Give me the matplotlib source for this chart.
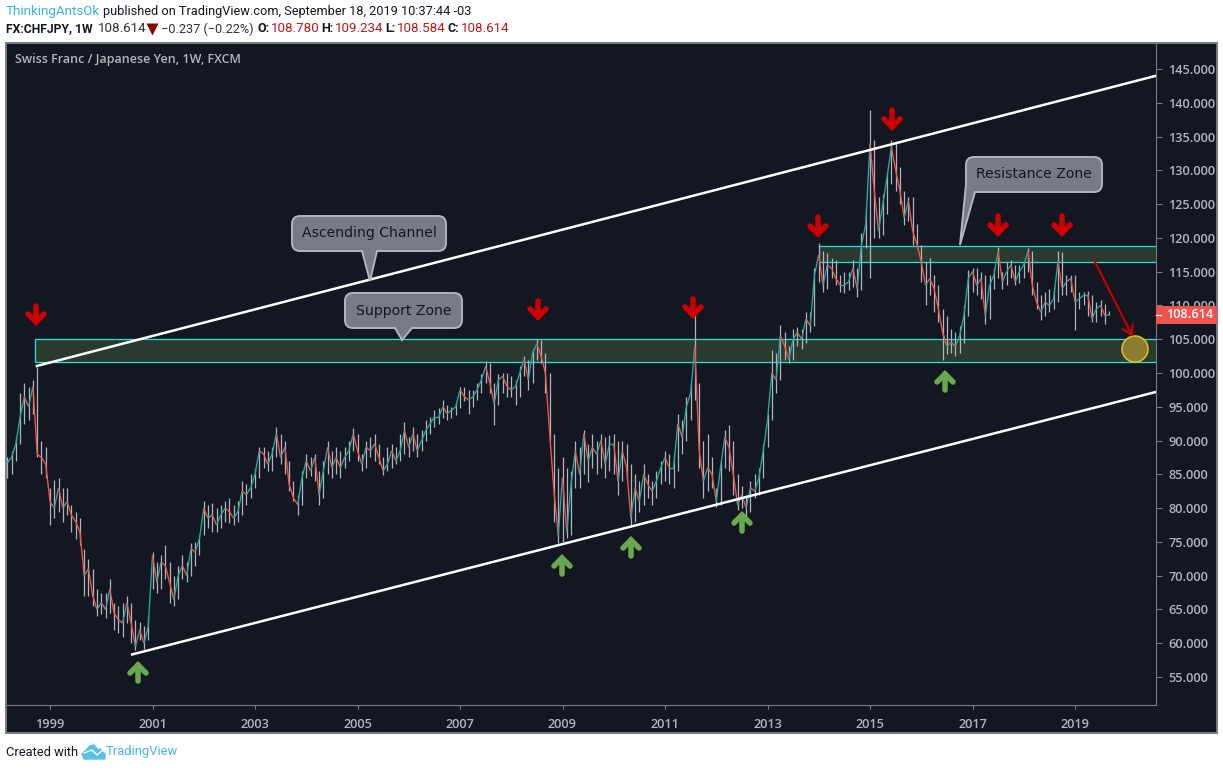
#!/usr/bin/env python

import matplotlib.pyplot as plt
import numpy as np
from matplotlib.collections import LineCollection
from matplotlib.patches import Circle, PathPatch, Rectangle
from matplotlib.path import Path

# monthly values, first one is March 1998
closes = [
    86.7, 87.5, 89.5, 93.5, 96.5, 95, 98, 88, 87.5, 86.5,
    81, 80, 83, 80, 81, 79, 78, 76.5, 70, 71, 67, 65,
    66, 65, 68, 64.5, 63.5, 63, 66, 63, 59.5, 62, 60, 62.5,
    73, 69, 72, 71.5, 69, 66.5, 70, 71.5, 70, 74, 73.5, 75.5,
    80, 78.5, 79, 77.5, 79, 80, 79.5, 78.5, 79.5, 82.5, 82, 83,
    85, 88.5, 88, 86.5, 88, 91, 87.5, 89, 83.5, 81.5, 80.5, 84.5,
    87, 85.5, 87.5, 82, 85.5, 89, 86, 87.5, 86, 87.5, 88.5, 91,
    88.5, 86.5, 89, 88.5, 89.5, 87.5, 85.5, 86.5, 88.5, 87, 88.5, 91.5,
    89, 91, 88.5, 90, 91.5, 92.5, 93.5, 93.5, 95, 94, 94.5, 95,
    97.5, 96.5, 96, 96.5, 97.5, 99, 101, 98.5, 95.5, 99, 99.5, 98,
    97.5, 98, 100, 102, 99, 103, 104.3, 102.5, 100, 91, 82.5, 76,
    84.5, 76.5, 83.5, 88.5, 85, 91, 87, 89, 88, 90, 86.5, 89.5,
    89.5, 84, 88.5, 86, 78.5, 83, 81, 85, 83.5, 82.5, 84, 86,
    87.5, 86, 86, 92.5, 90.5, 95, 97, 104, 88.5, 84, 86, 85,
    81, 86, 90.5, 89, 85, 80.5, 82, 80, 83, 82.5, 84.5, 88.5,
    93, 100, 99, 105.5, 104, 102, 105, 106, 105, 108, 107, 114.5,
    117.5, 113, 116, 115.5, 114, 113, 113, 113.5, 115.5, 112.5, 119, 122,
    134, 127, 121, 125, 129, 133.5, 130, 127, 123, 125.5, 121, 119,
    116.5, 113, 114, 112.5, 109.5, 106, 104, 104.5, 104, 105.5, 108.5, 114,
    115, 113, 114, 108.5, 113, 114.5, 118, 113.5, 115, 116, 113.5, 115,
    116, 118, 113, 110.5, 109, 110.5, 110, 111, 116.5, 112.5, 113.5, 114,
    110.5, 111, 111.5, 111.5, 108, 109.5, 110, 108.5, 108.614,
]
highs = [
    87.5, 88.5, 90.5, 97, 98.5, 98, 99, 100.9, 90, 89,
    83, 84.2, 84.5, 83, 83, 80.5, 79.5, 78.5, 74, 72.5, 71, 68,
    67.5, 67.5, 69.5, 66, 65.5, 66, 67, 66, 63.5, 63.2, 62.5, 64,
    73.5, 72, 73, 74.5, 72, 70, 71.5, 73, 72, 74.8, 75, 76,
    81, 80.5, 80.8, 80, 80.5, 81, 81.5, 80.5, 81, 84, 83.5, 85,
    86, 89, 89, 88.5, 89, 92, 91, 90, 87, 84, 82, 85.5,
    88, 87.5, 88, 85.5, 87, 90, 88.5, 89, 88.5, 89, 90, 91.8,
    91, 88, 90, 90.5, 91, 89.5, 87.5, 89, 89.5, 89, 91, 92.7,
    90.5, 92, 91, 91.5, 93, 93.5, 94.5, 94.8, 96, 95.3, 95, 95.6,
    98, 98, 97.5, 97.5, 98.5, 99.8, 101.8, 101.5, 98.5, 99.8, 100, 100,
    99.5, 99, 101, 102.5, 102, 103.5, 105, 104.9, 103, 100, 91, 86,
    87.5, 86, 85.5, 90, 89, 91.5, 89.5, 91, 90, 91, 90.5, 90.8,
    91, 90, 90, 89.5, 86.5, 85, 84, 86.5, 85, 84, 85.5, 87,
    88.5, 88, 88, 94, 93, 96.5, 98.5, 108.6, 98.5, 90, 91, 87.5,
    83, 87, 91.5, 92.3, 90, 85, 83.3, 82, 84, 85, 86, 89.5,
    94, 103.4, 103, 107.1, 106, 104, 106.5, 106.8, 106.5, 109, 109, 115.5,
    119.2, 118, 117.8, 117, 116.7, 114.5, 115, 115, 116.7, 115.5, 120.7, 124.4,
    138.9, 134.5, 126, 126.5, 129.5, 134.5, 134, 130.5, 127, 126, 126, 122,
    119, 116.5, 117, 114.5, 113, 109.5, 108.5, 106.5, 106, 107, 110, 115.2,
    115.5, 115.5, 115, 114.5, 114.5, 115.5, 118.7, 115, 116.5, 116.7, 116, 116,
    116.5, 118.5, 118, 113.5, 111.5, 112, 112.5, 112.8, 118, 117.9, 114.5, 114.5,
    114.5, 112, 112, 112.2, 111.5, 110.5, 110.8, 110.2, 109.234,
]
lows = [
    84.5, 85, 87, 89.5, 92.5, 93, 94, 87.5, 85, 84.5,
    77.5, 78.5, 79.5, 78, 79, 76.5, 75.5, 74.5, 67, 67, 65.5, 64,
    64.3, 63.8, 64.5, 62, 61.5, 61, 63, 60, 59, 60.5, 59.2, 60.5,
    68, 67.5, 68, 69.5, 66, 65.5, 66.5, 69.5, 69, 70, 71.5, 73,
    76, 77, 76.5, 76.5, 77, 78, 77.8, 77.5, 78, 79, 80.5, 81.5,
    83, 84.5, 86, 85.5, 85.5, 87.5, 86.5, 85, 82.5, 81, 79, 80.5,
    84.5, 84.8, 84, 80.4, 81.5, 85, 84.5, 85, 84.5, 86, 87, 88.5,
    87, 85.5, 86, 87.5, 87, 86.5, 84.9, 85.5, 86, 86.5, 87, 88,
    87.5, 88.5, 87.5, 88.5, 90, 91, 92, 92.5, 93.3, 93, 93.3, 93.8,
    94.8, 95.8, 94, 95, 96, 97, 98.5, 97, 92.3, 95.2, 97, 96.5,
    96.5, 95.3, 96.5, 99.5, 97.5, 98.5, 102, 101.5, 97, 90, 78, 74.8,
    75, 75.6, 76, 83, 83, 85, 83.8, 86, 85, 86, 84.5, 85.5,
    85, 82, 84, 84, 77.2, 78, 79.5, 80.5, 81.5, 80.5, 81.5, 83.5,
    84, 83.5, 83, 85.5, 88, 90, 93, 96, 86, 81.5, 82.5, 83,
    80.2, 80.5, 86, 85.5, 82, 79.7, 80, 78.7, 79.5, 81.5, 82, 84.5,
    89, 93, 97, 99, 102, 101.5, 102, 104, 103.5, 104.5, 106, 107,
    113.5, 112, 112.5, 114, 113, 112, 111.8, 112.3, 112.8, 111.3, 112.3, 118.5,
    114, 120, 120, 120.5, 123.5, 128, 127, 125, 121.9, 122.5, 119, 118.5,
    113.5, 110, 111.5, 109, 107.5, 101.9, 102.8, 103, 102.5, 103, 104.5, 108.5,
    112, 111.5, 111, 107.3, 108, 112.5, 114, 112.5, 113, 114, 113, 113.3,
    114, 115, 111.5, 109.5, 107.8, 108.5, 109, 109.5, 110.5, 111.5, 111.5, 112,
    106.3, 109.5, 110, 108.5, 107.5, 107.6, 108.5, 107.3, 108.584,
]
first_year = 1998 + 2 / 12

price_ticks = list(range(55, 150, 5))
year_ticks = list(range(1999, 2021, 2))

support_zone = (101.6, 105.0)
resistance_zone = (116.5, 118.85)
support_start = 1998.71
resistance_start = 2014.0

upper_channel = ([1998.72, 2020.58], [101.0, 144.0])
lower_channel = ([2000.58, 2020.58], [58.3, 97.2])

last_price = 108.614

W, H = 1223, 770
BG = "#131722"
GREY = "#b2b5be"
LINE = "#787b86"
CYAN = "#1fe6d8"
RED = "#cc0000"
GREEN = "#6aa84f"
FONT = "Open Sans"
HEAD = "Roboto"

fig = plt.figure(figsize=(W / 100, H / 100), dpi=100, facecolor="white")

# pixel coordinates for the panel and everything around the chart
back = fig.add_axes([0, 0, 1, 1], zorder=0)
back.set_xlim(0, W)
back.set_ylim(H, 0)
back.axis("off")
back.add_patch(Rectangle((6, 43), 1211, 690, fc=BG, ec=LINE, lw=1.4))

# 1 year = 51.25 px and 1 unit of price = 6.756 px
ax = fig.add_axes([6 / W, 1 - 705 / H, 1150 / W, 662 / H], zorder=1)
ax.set_facecolor("none")
ax.set_xlim(1999 + (6 - 50) / 51.25, 1999 + (1156 - 50) / 51.25)
ax.set_ylim(145 - (705 - 69) / 6.756, 145 + (69 - 43) / 6.756)

dates = first_year + np.arange(len(closes)) / 12
closes = np.array(closes)
opens = np.r_[closes[0], closes[:-1]]
up = closes >= opens

ax.vlines(dates, lows, highs, color=GREY, lw=0.9, zorder=3)
# bodies slanted from one close to the next, the weekly candles are too thin to tell apart
segments = np.stack([np.c_[dates[:-1], closes[:-1]], np.c_[dates[1:], closes[1:]]], axis=1)
colors = ["#26a69a" if u else "#ef5350" for u in up[1:]]
ax.add_collection(LineCollection(segments, colors=colors, linewidths=1.0, zorder=4))

for start, zone in [(support_start, support_zone), (resistance_start, resistance_zone)]:
    ax.fill_between([start, ax.get_xlim()[1]], *zone, fc="#2a3a2e", ec="none", zorder=1)
    ax.hlines(zone, start, ax.get_xlim()[1], color=CYAN, lw=0.9, zorder=2)
ax.vlines(support_start, *support_zone, color=CYAN, lw=0.9, zorder=2)

ax.plot(*upper_channel, color="white", lw=1.8, zorder=5, solid_capstyle="butt")
ax.plot(*lower_channel, color="white", lw=1.8, zorder=5, solid_capstyle="butt")

ax.yaxis.tick_right()
ax.set_yticks(price_ticks, [f"{p:.3f}" for p in price_ticks])
ax.set_xticks(year_ticks, [str(y) for y in year_ticks])
ax.tick_params(axis="y", colors=GREY, length=4, width=0.8, pad=5, labelsize=9.2, color=LINE)
ax.tick_params(axis="x", colors=GREY, length=3, width=0.8, pad=6, labelsize=9.2, color=LINE)
for label in ax.get_xticklabels() + ax.get_yticklabels():
    label.set_family(FONT)
    label.set_fontweight("semibold")
for side in ["top", "left"]:
    ax.spines[side].set_visible(False)
ax.spines["bottom"].set_color(LINE)
ax.spines["right"].set_color(LINE)

# pixel coordinates again for the drawings on top
over = fig.add_axes([0, 0, 1, 1], zorder=2)
over.set_xlim(0, W)
over.set_ylim(H, 0)
over.axis("off")


def fat_arrow(x, y0, y1, color):
    # y1 is the tip
    d = 1 if y1 > y0 else -1
    over.plot([x, x], [y0 + d, y1 - d * 2], color=color, lw=4.0, solid_capstyle="round")
    over.plot([x - 8, x, x + 8], [y1 - d * 10, y1 - d * 2, y1 - d * 10], color=color, lw=4.0,
              solid_capstyle="round", solid_joinstyle="miter")


for x, y0, y1 in [(36, 305, 324), (538, 300, 319), (693, 298, 317), (818, 216, 236),
                  (892, 109, 129), (998, 215, 235), (1062, 215, 235)]:
    fat_arrow(x, y0, y1, RED)
for x, y0, y1 in [(138, 682, 663), (562, 575, 556), (631, 557, 538), (742, 532, 513),
                  (945, 391, 372)]:
    fat_arrow(x, y0, y1, GREEN)

over.annotate("", xy=(1133, 337), xytext=(1094, 260),
              arrowprops=dict(arrowstyle="->,head_length=0.7,head_width=0.4", color="#c00000", lw=1.6,
                              shrinkA=0, shrinkB=0))
over.add_patch(Circle((1135, 349), 13, fc="#8d7c2f", ec="#d9b92f", lw=1.2))


def callout(x0, y0, x1, y1, base, tip, label):
    # rounded box with the pointer on its lower edge
    r = 8
    verts = [(x0 + r, y0), (x1 - r, y0), (x1, y0), (x1, y0 + r), (x1, y1 - r), (x1, y1), (x1 - r, y1)]
    codes = [Path.MOVETO, Path.LINETO, Path.CURVE3, Path.CURVE3, Path.LINETO, Path.CURVE3, Path.CURVE3]
    if base[0] - x0 < r:
        # pointer leaves from the left corner
        verts += [(base[1], y1), tip, (x0, y1 - 8)]
        codes += [Path.LINETO, Path.LINETO, Path.LINETO]
    else:
        verts += [(base[1], y1), tip, (base[0], y1), (x0 + r, y1), (x0, y1), (x0, y1 - r)]
        codes += [Path.LINETO, Path.LINETO, Path.LINETO, Path.LINETO, Path.CURVE3, Path.CURVE3]
    verts += [(x0, y0 + r), (x0, y0), (x0 + r, y0), (x0 + r, y0)]
    codes += [Path.LINETO, Path.CURVE3, Path.CURVE3, Path.CLOSEPOLY]
    over.add_patch(PathPatch(Path(verts, codes), fc="#787b86", ec=GREY, lw=1.4))
    over.text((x0 + x1) / 2, (y0 + y1) / 2, label, color=BG, fontsize=10.1, ha="center",
              va="center", family="DejaVu Sans")


callout(292, 216, 446, 251, (362, 377), (370, 281), "Ascending Channel")
callout(345, 293, 462, 328, (395, 412), (402, 340), "Support Zone")
callout(966, 157, 1102, 192, (966, 975), (960, 245), "Resistance Zone")

# last price tag
over.add_patch(Rectangle((1156, 306), 61, 18, fc="#ef5350", ec="none"))
over.plot([1156, 1161], [315, 315], color="white", lw=0.9)
over.text(1166, 315, f"{last_price:.3f}", color="white", fontsize=9.2, va="center",
          family=FONT, fontweight="semibold")

over.text(15, 60, "Swiss Franc / Japanese Yen, 1W, FXCM", color=GREY, fontsize=9, va="center",
          family=FONT, fontweight="semibold")

# header lines
DARK_RED = "#b71c1c"
over.text(6, 12, "ThinkingAntsOk", color="#3bb3e4", fontsize=9.6, va="center", family=HEAD)
over.text(103, 12, "published on TradingView.com, September 18, 2019 10:37:44 -03", color="#131722",
          fontsize=9.15, va="center", family=HEAD)
over.text(6, 29, "FX:CHFJPY, 1W", color="#131722", fontsize=8.7, va="center", family=HEAD, fontweight="bold")
over.text(98, 29, "108.614", color="#333333", fontsize=9.6, va="center", family=HEAD)
over.plot([152], [29], marker="v", ms=8, color="#8b0000", mec="none")
over.text(161, 29, "\u22120.237 (\u22120.22%)", color="#333333", fontsize=9.2, va="center", family=HEAD)
for x_key, key, x_val, val in [(257, "O:", 271, "108.780"), (321, "H:", 335, "109.234"),
                               (385, "L:", 397, "108.584"), (447, "C:", 461, "108.614")]:
    over.text(x_key, 29, key, color="#131722", fontsize=9.0, va="center", family=HEAD, fontweight="bold")
    over.text(x_val, 29, val, color=DARK_RED, fontsize=9.6, va="center", family=HEAD)

# footer with the small logo
over.text(6, 752, "Created with", color="#131722", fontsize=9.3, va="center", family=HEAD)
over.fill([82, 90, 94, 98, 100, 105, 105, 84], [754, 746, 745, 750, 749, 754, 759, 759], color="#5cbfe8")
over.plot([84, 92, 97, 103], [753, 750, 755, 750], color="white", lw=1)
over.text(106, 752, "TradingView", color="#4bb6e8", fontsize=9.4, va="center", family=HEAD)

plt.savefig("out.png", dpi=100, facecolor="white")
